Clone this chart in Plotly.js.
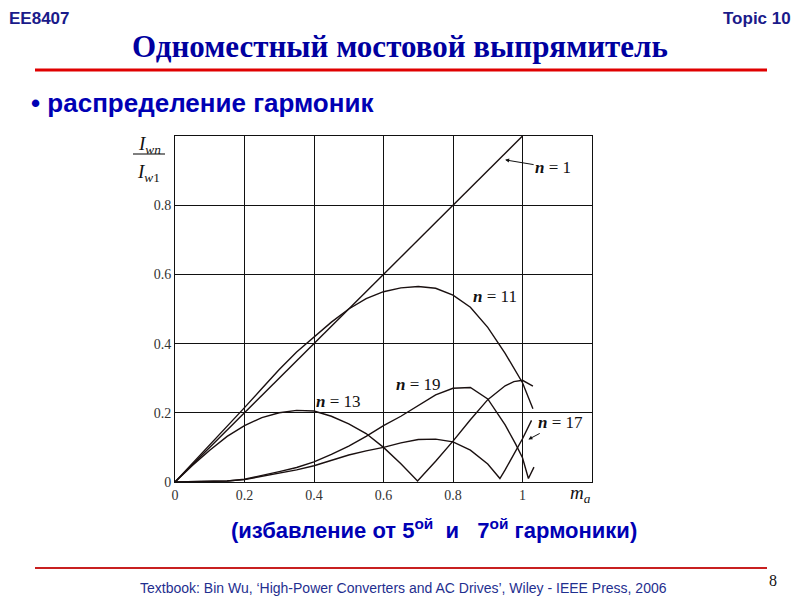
<!DOCTYPE html>
<html>
<head>
<meta charset="utf-8">
<script src="https://cdn.plot.ly/plotly-3.0.1.min.js"></script>
<style>
html,body{margin:0;padding:0;background:#fff;}
#chart{width:800px;height:600px;}
</style>
</head>
<body>
<div id="chart"></div>
<script>
// ---- data ----
const n1X  = [0, 1];
const n1Y  = [0, 1];

const n11X = [0,0.05,0.1,0.15,0.2,0.25,0.3,0.35,0.4,0.45,0.5,0.55,0.6,0.65,0.7,0.75,0.8,0.85,0.9,0.95,1.0,1.03];
const n11Y = [0,0.053,0.106,0.16,0.215,0.27,0.325,0.376,0.42,0.462,0.5,0.53,0.55,0.561,0.565,0.56,0.54,0.505,0.447,0.372,0.287,0.212];

const n13X = [0,0.05,0.1,0.15,0.2,0.25,0.3,0.35,0.4,0.45,0.5,0.55,0.6,0.65,0.698,0.75,0.8,0.85,0.9,0.95,0.975,1.0,1.03];
const n13Y = [0,0.048,0.092,0.132,0.163,0.186,0.2,0.207,0.205,0.19,0.168,0.14,0.1,0.053,0.003,0.06,0.118,0.18,0.238,0.278,0.29,0.294,0.277];

const n17X = [0,0.1,0.15,0.2,0.25,0.3,0.35,0.4,0.45,0.5,0.55,0.6,0.65,0.7,0.75,0.8,0.85,0.9,0.935,0.95,1.0,1.026];
const n17Y = [0,0.001,0.003,0.007,0.016,0.026,0.035,0.047,0.062,0.078,0.09,0.1,0.113,0.123,0.124,0.116,0.092,0.052,0.01,0.035,0.125,0.178];

const n19X = [0,0.1,0.15,0.2,0.25,0.3,0.35,0.4,0.45,0.5,0.55,0.6,0.65,0.7,0.75,0.8,0.85,0.9,0.95,0.98,1.0,1.017,1.033];
const n19Y = [0,0.001,0.003,0.008,0.018,0.03,0.042,0.058,0.08,0.104,0.132,0.163,0.19,0.222,0.252,0.271,0.273,0.24,0.165,0.11,0.07,0.01,0.043];

const xTicks = [0, 0.2, 0.4, 0.6, 0.8, 1];
const xTickText = ['0', '0.2', '0.4', '0.6', '0.8', '1'];
const yTicks = [0, 0.2, 0.4, 0.6, 0.8];
const yTickText = ['0', '0.2', '0.4', '0.6', '0.8'];

// ---- layout geometry ----
const L = 175, R = 208, T = 136, B = 118, W = 800 - L - R, H = 600 - T - B;
const px = p => (p - L) / W;
const py = p => (600 - B - p) / H;

const curveLine = {color: '#1a1010', width: 1.4};
const mk = (x, y, name) => ({x, y, name, type: 'scatter', mode: 'lines', line: curveLine, showlegend: false, hoverinfo: 'skip'});

const data = [
  mk(n1X, n1Y, 'n = 1'),
  mk(n11X, n11Y, 'n = 11'),
  mk(n13X, n13Y, 'n = 13'),
  mk(n17X, n17Y, 'n = 17'),
  mk(n19X, n19Y, 'n = 19')
];

const serif = 'Liberation Serif, Times New Roman, serif';
const sans = 'Liberation Sans, Arial, sans-serif';
const labFont = {family: serif, size: 17, color: '#111'};
const nLab = s => '<b><i>n</i></b> = ' + s;

const annotations = [
  // header
  {xref:'paper', yref:'paper', x:px(7), y:py(18), xanchor:'left', yanchor:'middle', showarrow:false,
   text:'<b>EE8407</b>', font:{family:sans, size:17, color:'#1a1a8a'}},
  {xref:'paper', yref:'paper', x:px(793), y:py(18), xanchor:'right', yanchor:'middle', showarrow:false,
   text:'<b>Topic 10</b>', font:{family:sans, size:17, color:'#1a1a8a'}},
  {xref:'paper', yref:'paper', x:px(29), y:py(103), xanchor:'left', yanchor:'middle', showarrow:false,
   text:'<b>• распределение гармоник</b>', font:{family:sans, size:26, color:'#0000b4'}},
  // sub caption
  {xref:'paper', yref:'paper', x:px(434), y:py(529), xanchor:'center', yanchor:'middle', showarrow:false,
   text:'<b>(избавление от 5<sup>ой</sup>  и   7<sup>ой</sup> гармоники)</b>', font:{family:sans, size:22, color:'#0000b4'}},
  // footer
  {xref:'paper', yref:'paper', x:px(403), y:py(588), xanchor:'center', yanchor:'middle', showarrow:false,
   text:'Textbook: Bin Wu, ‘High-Power Converters and AC Drives’, Wiley - IEEE Press, 2006', font:{family:sans, size:14, color:'#1f2f8f'}},
  {xref:'paper', yref:'paper', x:px(773), y:py(580), xanchor:'center', yanchor:'middle', showarrow:false,
   text:'8', font:{family:serif, size:16, color:'#111'}},
  // y-axis fraction title
  {xref:'paper', yref:'paper', x:px(149), y:py(145), xanchor:'center', yanchor:'middle', showarrow:false,
   text:'<i>I</i><sub><i>wn</i></sub>', font:{family:serif, size:19, color:'#111'}},
  {xref:'paper', yref:'paper', x:px(148), y:py(173), xanchor:'center', yanchor:'middle', showarrow:false,
   text:'<i>I</i><sub><i>w</i>1</sub>', font:{family:serif, size:19, color:'#111'}},
  // x-axis label
  {xref:'paper', yref:'paper', x:px(580), y:py(494), xanchor:'center', yanchor:'middle', showarrow:false,
   text:'<i>m</i><sub><i>a</i></sub>', font:{family:serif, size:19, color:'#111'}},
  // curve labels
  {xref:'x', yref:'y', x:0.95, y:0.931, ax:48, ay:8, text:nLab('1'), font:labFont,
   showarrow:true, arrowhead:2, arrowsize:0.8, arrowwidth:1, arrowcolor:'#111', standoff:0},
  {xref:'x', yref:'y', x:1.017, y:0.123, ax:32, ay:-17, text:nLab('17'), font:labFont,
   showarrow:true, arrowhead:2, arrowsize:0.8, arrowwidth:1, arrowcolor:'#111', standoff:0},
  {xref:'x', yref:'y', x:0.92, y:0.535, showarrow:false, text:nLab('11'), font:labFont},
  {xref:'x', yref:'y', x:0.47, y:0.232, showarrow:false, text:nLab('13'), font:labFont},
  {xref:'x', yref:'y', x:0.70, y:0.282, showarrow:false, text:nLab('19'), font:labFont}
];

const shapes = [
  {type:'line', xref:'paper', yref:'paper', x0:px(35), x1:px(767), y0:py(70), y1:py(70), line:{color:'#e00000', width:3}},
  {type:'line', xref:'paper', yref:'paper', x0:px(35), x1:px(767), y0:py(568), y1:py(568), line:{color:'#c82020', width:2}},
  {type:'line', xref:'paper', yref:'paper', x0:px(133), x1:px(165), y0:py(154), y1:py(154), line:{color:'#555', width:1.5}}
];

const layout = {
  width: 800, height: 600,
  margin: {l: L, r: R, t: T, b: B, pad: 0},
  paper_bgcolor: '#fff', plot_bgcolor: '#fff',
  title: {text: '<b>Одноместный мостовой выпрямитель</b>', x: 0.5, xref: 'container', xanchor: 'center',
          y: 1 - 46/600, yref: 'container', yanchor: 'middle',
          font: {family: serif, size: 31, color: '#0000a0'}},
  showlegend: false,
  xaxis: {range: [0, 1.2], tickvals: xTicks, ticktext: xTickText, showgrid: true, gridcolor: '#111', gridwidth: 1,
          zeroline: false, showline: true, mirror: true, linecolor: '#111', linewidth: 1, ticks: '',
          tickfont: {family: serif, size: 14, color: '#333'}, fixedrange: true},
  yaxis: {range: [0, 1], tickvals: yTicks, ticktext: yTickText, showgrid: true, gridcolor: '#111', gridwidth: 1,
          zeroline: false, showline: true, mirror: true, linecolor: '#111', linewidth: 1, ticks: '',
          tickfont: {family: serif, size: 14, color: '#333'}, fixedrange: true},
  annotations, shapes
};

Plotly.newPlot('chart', data, layout, {staticPlot: true, displayModeBar: false});
</script>
</body>
</html>
